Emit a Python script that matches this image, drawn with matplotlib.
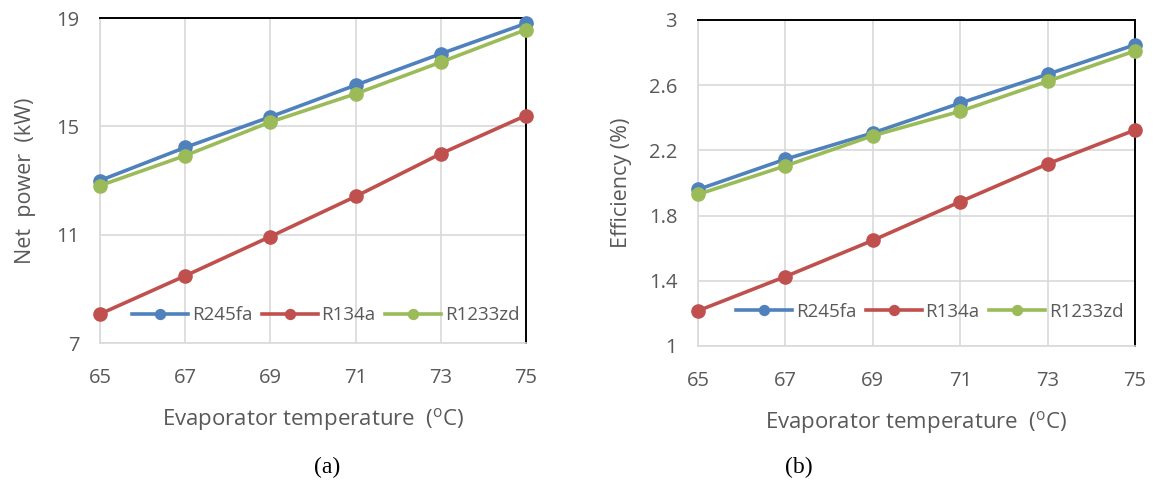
import matplotlib.pyplot as plt

plt.rcParams['font.family'] = ['Open Sans', 'DejaVu Sans']
plt.rcParams['mathtext.fontset'] = 'custom'
plt.rcParams['mathtext.rm'] = 'Open Sans'

temps = [65, 67, 69, 71, 73, 75]
series = ['R245fa', 'R134a', 'R1233zd']

power_r245fa = [13.0, 14.22, 15.35, 16.52, 17.68, 18.8]
power_r134a = [8.07, 9.48, 10.93, 12.41, 13.99, 15.4]
power_r1233zd = [12.81, 13.92, 15.16, 16.2, 17.37, 18.57]

eff_r245fa = [1.96, 2.146, 2.307, 2.49, 2.667, 2.848]
eff_r134a = [1.216, 1.426, 1.648, 1.885, 2.117, 2.325]
eff_r1233zd = [1.93, 2.105, 2.29, 2.44, 2.624, 2.81]

colors = ['#4F81BD', '#C0504D', '#9BBB59']
grey = '#595959'


def style_axes(ax, yticks):
    ax.set_xlim(65, 75)
    ax.set_xticks(temps)
    ax.set_ylim(yticks[0], yticks[-1])
    ax.set_yticks(yticks)
    ax.set_yticklabels([f'{v:g}' for v in yticks])
    ax.grid(True, color='#d9d9d9', linewidth=1.2)
    ax.set_axisbelow(True)
    ax.tick_params(length=0, labelsize=14.5, labelcolor=grey)
    ax.tick_params(axis='x', pad=18)
    ax.tick_params(axis='y', pad=15)
    for side in ['left', 'bottom']:
        ax.spines[side].set_color('#d9d9d9')
        ax.spines[side].set_linewidth(1.2)
    for side in ['top', 'right']:
        ax.spines[side].set_color('black')
        ax.spines[side].set_linewidth(1.4)
    ax.set_xlabel(r'Evaporator temperature  ($^{\mathrm{o}}$C)', fontsize=16, color=grey, labelpad=13)


fig = plt.figure(figsize=(11.57, 4.8), dpi=100)
ax1 = fig.add_axes([0.0864, 0.2854, 0.3682, 0.6771])
ax2 = fig.add_axes([0.6033, 0.2792, 0.3777, 0.6792])

for ax, data in [(ax1, [power_r245fa, power_r134a, power_r1233zd]),
                 (ax2, [eff_r245fa, eff_r134a, eff_r1233zd])]:
    for name, vals, c in zip(series, data, colors):
        ax.plot(temps, vals, color=c, linewidth=2.6, marker='o', markersize=9.5,
                label=name, clip_on=False, zorder=3)

style_axes(ax1, [7, 11, 15, 19])
style_axes(ax2, [1, 1.4, 1.8, 2.2, 2.6, 3])

ax1.set_ylabel('Net  power  (kW)', fontsize=15.5, color=grey, labelpad=14)
ax2.set_ylabel('Efficiency (%)', fontsize=15.5, color=grey, labelpad=12)

for ax, y in [(ax1, 0.085), (ax2, 0.105)]:
    leg = ax.legend(loc='center', bbox_to_anchor=(0.53, y), ncol=3, frameon=False,
                    fontsize=13.5, handlelength=3.0, columnspacing=0.5,
                    handletextpad=0.2, markerscale=0.75)
    for t in leg.get_texts():
        t.set_color(grey)

fig.text(0.283, 0.027, '(a)', fontsize=17, family='Liberation Serif', ha='center', va='center')
fig.text(0.69, 0.027, '(b)', fontsize=17, family='Liberation Serif', ha='center', va='center')

fig.savefig('out.png', dpi=100)
